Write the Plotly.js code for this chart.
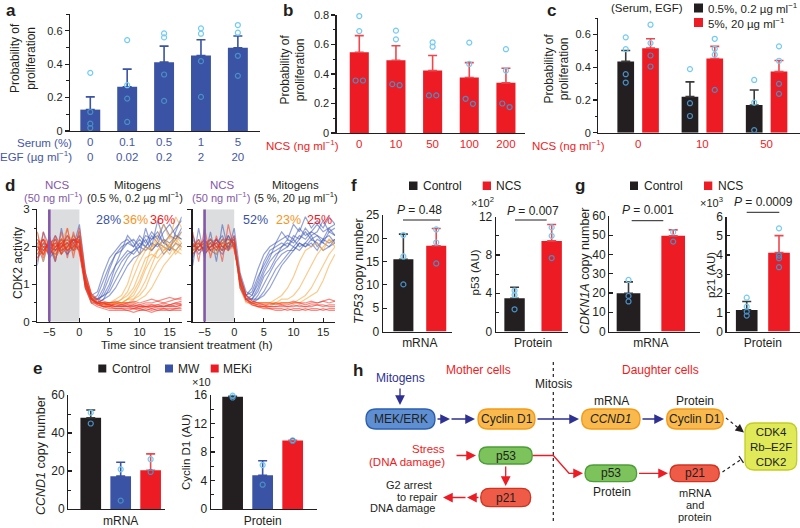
<!DOCTYPE html>
<html><head><meta charset="utf-8">
<script src="https://cdn.plot.ly/plotly-3.0.1.min.js"></script>
<style>body{margin:0;background:#fff}#chart{width:800px;height:528px}</style>
</head><body><div id="chart"></div>
<script>
// ================= DATA =================
// panel a
const aSerum = ['0','0.1','0.5','1','5'];
const aEGF = ['0','0.02','0.2','2','20'];
const aMean = [0.128,0.264,0.412,0.452,0.498];
const aErr = [0.076,0.106,0.096,0.094,0.070];
const aPts = [[0.348,0.114,0.044,0.018],[0.544,0.274,0.194,0.054],[0.584,0.56,0.338,0.18],[0.614,0.582,0.418,0.204],[0.634,0.588,0.45,0.33]];
// panel b
const bNCS = ['0','10','50','100','200'];
const bMean = [0.547,0.493,0.423,0.376,0.34];
const bErr = [0.113,0.099,0.102,0.101,0.099];
const bPts = [[0.793,0.691,0.356,0.356],[0.694,0.635,0.331,0.324],[0.615,0.585,0.255,0.255],[0.613,0.468,0.232,0.198],[0.568,0.423,0.2,0.176]];
// panel c
const cNCS = ['0','10','50'];
const cLowMean = [0.435,0.22,0.169];
const cLowErr = [0.067,0.09,0.092];
const cLowPts = [[0.582,0.51,0.357,0.306],[0.388,0.18,0.102],[0.322,0.184,0.016]];
const cHighMean = [0.516,0.453,0.373];
const cHighErr = [0.057,0.074,0.068];
const cHighPts = [[0.659,0.547,0.471,0.404],[0.573,0.512,0.476,0.261],[0.527,0.439,0.298,0.237]];
// panel d (single-cell CDK2 activity traces, hours)
const dT = [-7,-6,-5,-4,-3,-2,-1,0,1,2,3,4,5,6,7,8,9,10,11,12,13,14,15,16,17];
const dLowBlue = [
 [2.0,1.8,2.1,1.9,2.2,2.0,2.3,2.1,1.0,0.6,0.7,1.1,1.5,1.8,2.0,2.1,2.2,2.0,2.3,2.2,2.4,2.1,2.3,2.2,2.5],
 [1.7,2.0,1.9,2.2,1.8,2.1,2.0,2.3,1.2,0.7,0.5,0.6,0.9,1.3,1.6,1.8,1.9,2.0,1.9,2.1,2.0,2.2,2.1,2.3,2.2],
 [2.2,1.9,2.0,1.7,2.0,2.3,1.9,2.0,0.9,0.5,0.5,0.8,1.2,1.5,1.7,1.9,1.8,2.0,2.2,1.9,2.1,2.0,1.9,2.1,2.0],
 [1.9,2.1,1.8,2.0,2.1,1.9,2.2,2.2,1.1,0.6,0.6,0.7,0.8,1.1,1.4,1.7,1.9,2.1,2.0,2.2,2.3,2.1,2.0,2.2,2.4],
 [2.1,1.6,2.2,2.0,1.9,2.0,2.1,1.9,1.0,0.7,0.8,1.3,1.7,1.9,2.1,2.2,2.0,2.3,2.1,2.4,2.2,2.6,2.3,2.5,2.7],
 [1.8,2.0,2.0,2.3,2.0,1.8,2.2,2.1,1.2,0.6,0.5,0.6,0.7,0.9,1.2,1.5,1.7,1.8,2.0,1.9,2.1,1.8,2.0,1.9,2.1],
 [2.0,2.2,1.7,1.9,2.2,2.1,1.9,2.4,1.0,0.6,0.6,0.9,1.4,1.8,1.9,2.1,2.0,2.2,2.0,2.3,2.1,2.4,2.6,2.3,2.2],
 [1.5,2.4,2.0,1.6,2.5,1.8,2.0,2.6,1.3,0.7,0.6,0.7,1.0,1.5,1.9,2.3,2.1,1.8,2.5,2.0,2.7,2.2,1.9,2.4,2.8]
];
const dLowOrange = [
 [1.9,2.1,2.0,1.8,2.2,2.0,2.1,2.0,1.1,0.6,0.5,0.5,0.5,0.5,0.6,0.8,1.2,1.6,1.9,2.0,2.1,1.9,2.0,2.2,2.0],
 [2.1,1.8,2.2,2.0,1.9,2.2,2.0,2.2,1.0,0.6,0.5,0.4,0.5,0.5,0.5,0.6,0.7,1.0,1.4,1.7,1.9,2.0,1.8,2.1,1.9],
 [1.8,2.0,1.9,2.1,2.0,1.9,2.3,2.1,1.2,0.7,0.5,0.5,0.4,0.5,0.5,0.5,0.6,0.7,0.9,1.3,1.6,1.8,2.0,1.9,2.1],
 [2.0,2.2,2.1,1.9,1.8,2.1,2.0,1.9,0.9,0.5,0.5,0.5,0.5,0.6,0.7,1.0,1.5,1.8,2.0,1.9,2.2,2.0,2.3,2.1,2.4],
 [1.7,1.9,2.0,2.2,2.1,2.0,1.9,2.2,1.1,0.6,0.5,0.4,0.4,0.5,0.5,0.5,0.5,0.6,0.7,0.9,1.2,1.5,1.7,1.9,1.8],
 [2.2,2.0,1.8,2.0,2.2,1.9,2.1,2.0,1.0,0.6,0.5,0.5,0.5,0.5,0.6,0.7,0.9,1.3,1.7,1.8,1.7,1.9,2.1,1.8,2.0],
 [1.9,1.8,2.1,2.0,1.9,2.3,2.2,2.1,1.1,0.6,0.5,0.5,0.4,0.5,0.5,0.6,0.6,0.8,1.1,1.5,1.9,2.2,2.0,2.3,2.1],
 [2.4,1.6,2.3,1.7,2.1,2.5,1.8,2.4,1.2,0.7,0.5,0.5,0.5,0.5,0.5,0.6,0.8,1.1,1.5,2.0,2.3,2.6,2.2,2.8,2.5]
];
const dLowRed = [
 [2.0,1.9,2.1,2.2,1.9,2.0,2.2,2.1,1.0,0.6,0.5,0.45,0.45,0.4,0.4,0.4,0.4,0.35,0.4,0.4,0.4,0.45,0.4,0.45,0.5],
 [1.8,2.1,2.0,1.9,2.1,2.2,2.0,2.0,1.1,0.7,0.55,0.5,0.45,0.45,0.45,0.4,0.45,0.4,0.4,0.45,0.45,0.4,0.45,0.5,0.45],
 [2.1,2.0,1.8,2.0,2.2,1.9,2.1,2.3,1.2,0.6,0.5,0.4,0.4,0.35,0.35,0.35,0.35,0.3,0.35,0.3,0.35,0.35,0.3,0.35,0.35],
 [1.9,2.2,1.9,2.1,2.0,2.1,1.9,2.2,0.9,0.6,0.5,0.5,0.5,0.5,0.45,0.5,0.5,0.45,0.5,0.5,0.55,0.5,0.55,0.6,0.6],
 [2.0,1.8,2.2,1.9,2.0,2.3,2.1,1.9,1.0,0.55,0.45,0.4,0.4,0.4,0.4,0.4,0.35,0.4,0.4,0.35,0.4,0.4,0.4,0.4,0.45],
 [2.2,2.0,2.0,2.1,1.8,2.0,2.2,2.1,1.1,0.65,0.5,0.45,0.45,0.4,0.45,0.45,0.4,0.45,0.4,0.4,0.45,0.5,0.45,0.5,0.55],
 [1.7,1.9,2.1,2.0,2.1,1.9,2.0,2.2,1.0,0.6,0.5,0.5,0.45,0.45,0.4,0.45,0.45,0.4,0.45,0.45,0.4,0.4,0.45,0.4,0.45],
 [2.1,2.2,1.9,1.8,2.0,2.1,2.2,2.0,1.1,0.6,0.45,0.4,0.35,0.35,0.35,0.3,0.35,0.35,0.3,0.35,0.3,0.35,0.35,0.35,0.4],
 [1.6,2.4,1.7,2.3,1.8,2.5,1.7,2.5,1.3,0.75,0.6,0.55,0.5,0.55,0.5,0.5,0.55,0.5,0.55,0.6,0.55,0.6,0.65,0.6,0.65],
 [2.4,1.7,2.3,1.6,2.4,1.7,2.4,1.8,0.9,0.5,0.4,0.35,0.3,0.3,0.3,0.3,0.25,0.3,0.3,0.25,0.3,0.3,0.3,0.3,0.3]
];
const dHighBlue = [
 [2.0,2.1,1.9,2.2,2.0,1.9,2.3,2.0,1.1,0.7,0.8,1.2,1.5,1.8,1.9,2.0,2.2,2.1,2.3,2.2,2.4,2.3,2.2,2.5,2.3],
 [1.8,2.0,2.1,1.9,2.2,2.0,2.1,2.2,1.0,0.6,0.6,0.9,1.3,1.6,1.8,1.9,2.0,2.2,2.0,2.1,2.3,2.0,2.2,2.1,2.2],
 [2.2,1.9,2.0,2.1,1.9,2.2,2.0,2.1,1.2,0.6,0.5,0.7,1.0,1.3,1.6,1.8,1.9,1.9,2.1,2.0,2.2,2.1,1.9,2.0,2.1],
 [1.9,2.2,1.8,2.0,2.1,2.3,1.9,2.3,1.0,0.7,0.9,1.4,1.8,2.0,2.1,2.2,2.3,2.2,2.5,2.3,2.4,2.6,2.4,2.5,2.6],
 [2.1,1.8,2.0,2.2,2.0,1.8,2.1,2.0,1.1,0.6,0.5,0.6,0.8,1.1,1.4,1.6,1.8,2.0,1.9,2.1,2.0,2.2,2.1,2.0,2.2],
 [2.0,2.0,2.2,1.9,1.8,2.1,2.2,2.1,0.9,0.6,0.6,0.8,1.2,1.4,1.7,2.0,2.1,2.0,2.2,2.4,2.2,2.3,2.1,2.4,2.3],
 [1.7,2.1,1.9,2.1,2.2,2.0,2.0,2.2,1.2,0.7,0.6,0.6,0.7,0.9,1.2,1.5,1.7,1.9,2.1,2.0,2.1,1.9,2.2,2.3,2.1],
 [2.3,1.9,2.0,2.0,2.1,1.9,2.3,2.0,1.0,0.6,0.7,1.1,1.6,1.9,2.0,2.1,2.0,2.3,2.2,2.5,2.3,2.4,2.7,2.4,2.5],
 [1.5,2.5,1.7,2.4,1.6,2.6,1.9,2.5,1.3,0.8,0.7,1.0,1.4,1.7,2.1,2.4,2.2,2.6,2.4,2.8,2.5,2.7,2.5,2.8,2.6]
];
const dHighOrange = [
 [2.0,1.9,2.1,2.0,1.8,2.2,2.0,2.1,1.1,0.6,0.5,0.5,0.5,0.5,0.5,0.6,0.6,0.7,0.9,1.2,1.5,1.8,2.0,2.2,2.1],
 [1.9,2.1,2.0,1.8,2.1,2.0,2.2,2.0,1.0,0.6,0.5,0.4,0.4,0.5,0.5,0.5,0.5,0.5,0.6,0.7,0.9,1.2,1.5,1.8,2.0],
 [2.1,2.0,1.9,2.2,2.0,1.9,2.1,2.2,1.2,0.6,0.5,0.5,0.5,0.5,0.6,0.7,0.9,1.2,1.6,1.9,2.0,2.1,1.9,2.2,2.0],
 [1.8,2.2,2.0,2.1,1.9,2.1,1.9,2.0,0.9,0.5,0.5,0.4,0.4,0.4,0.5,0.5,0.5,0.5,0.5,0.6,0.7,0.8,1.1,1.5,1.8]
];
const dHighRed = [
 [2.0,2.1,1.9,2.0,2.2,2.0,2.1,2.2,1.0,0.6,0.45,0.4,0.4,0.35,0.35,0.35,0.3,0.35,0.35,0.3,0.35,0.35,0.3,0.35,0.35],
 [1.9,2.0,2.2,1.9,2.0,2.1,2.0,2.0,1.1,0.6,0.5,0.45,0.45,0.4,0.4,0.45,0.4,0.4,0.45,0.4,0.45,0.45,0.4,0.45,0.45],
 [2.1,1.9,2.0,2.1,1.9,2.2,2.2,2.1,1.2,0.7,0.55,0.5,0.45,0.45,0.5,0.45,0.45,0.5,0.5,0.45,0.5,0.5,0.55,0.5,0.55],
 [2.0,2.2,1.8,2.0,2.1,1.9,2.0,2.3,0.9,0.55,0.45,0.4,0.35,0.35,0.3,0.3,0.35,0.3,0.3,0.35,0.3,0.3,0.35,0.3,0.3],
 [1.8,2.0,2.1,2.2,2.0,2.0,1.9,2.1,1.0,0.6,0.5,0.45,0.4,0.4,0.4,0.4,0.4,0.45,0.4,0.4,0.4,0.45,0.45,0.4,0.4],
 [2.4,1.6,2.5,1.7,2.3,1.6,2.6,1.9,1.2,0.7,0.55,0.5,0.5,0.5,0.45,0.5,0.5,0.55,0.5,0.5,0.55,0.5,0.55,0.6,0.55]
];
const dLowPct = ['28%','36%','36%'];
const dHighPct = ['52%','23%','25%'];
// panel e
const eGroups = ['Control','MW','MEKi'];
const eMrnaMean = [48.0,17.3,20.4];
const eMrnaErr = [4.1,7.3,8.6];
const eMrnaPts = [[50.7,45.0],[20.9,4.4],[26.2,19.5]];
const eProtMean = [15.75,4.72,9.6];
const eProtErr = [0.3,2.06,0.05];
const eProtPts = [[15.9,15.65],[6.17,3.41],[9.65,9.55]];
// panel f
const fGroups = ['Control','NCS'];
const fMrnaMean = [15.5,18.4];
const fMrnaErr = [5.4,3.7];
const fMrnaPts = [[20.7,16.1,10.1],[21.9,19.1,14.6]];
const fProtMean = [3.47,9.47];
const fProtErr = [1.16,1.72];
const fProtPts = [[4.28,3.82,2.32],[10.88,10.0,7.68]];
const fPvals = ['0.48','0.007'];
// panel g
const gMrnaMean = [19.9,49.7];
const gMrnaErr = [5.9,3.1];
const gMrnaPts = [[26.8,18.5,15.6],[51.6,46.7]];
const gProtMean = [1.13,4.12];
const gProtErr = [0.44,0.89];
const gProtPts = [[1.77,1.3,1.04,0.83],[5.39,3.97,3.83,3.36]];
const gPvals = ['0.001','0.0009'];

// ================= STYLE =================
const FONT = 'Arial, "Liberation Sans", Helvetica, sans-serif';
const INK = '#231f20', BLUE = '#3a53a4', RED = '#ed1c24', TBLUE = '#4457a5';
const ERR_RED = '#f0464c', ERR_INK = '#3a3a3a';
const PT_LIGHT = '#74cbf2', PT_DARK = '#4a8fc6';
const W = 800, H = 528;
const dx = (a,b)=>[a/W, b/W];
const dy = (top,bot)=>[1-bot/H, 1-top/H];

const traces = [];
function addBars(xs, ys, errs, color, errColor, width, xa, ya, offset){
  const t = {type:'bar', x:xs, y:ys, width:width, xaxis:xa, yaxis:ya,
    marker:{color:color, line:{width:0}}, hoverinfo:'skip',
    error_y:{type:'data', array:errs, arrayminus:errs.map(()=>0), symmetric:false,
      color:errColor, thickness:1.6, width:4.5}};
  if(offset!==undefined) t.offset = offset;
  traces.push(t);
}
function addPts(xc, pts, means, xa, ya, offs){
  const x=[], y=[], c=[];
  pts.forEach((arr,i)=>arr.forEach((v,j)=>{
    x.push(xc[i] + (offs ? (offs[j]||0) : 0)); y.push(v);
    c.push(v > means[i] ? PT_LIGHT : PT_DARK);
  }));
  traces.push({type:'scatter', mode:'markers', x:x, y:y, xaxis:xa, yaxis:ya, hoverinfo:'skip', cliponaxis:false,
    marker:{symbol:'circle-open', size:5, color:c, line:{width:1.2}}});
}
function addLines(set, color, xa, ya){
  set.forEach(v=>traces.push({type:'scatter', mode:'lines', x:dT, y:v, xaxis:xa, yaxis:ya, hoverinfo:'skip',
    opacity:0.55, line:{color:color, width:1.2, shape:'linear'}}));
}

// a
const aIdx = aMean.map((_,i)=>i);
addBars(aIdx, aMean, aErr, BLUE, BLUE, 0.54, 'x','y');
addPts(aIdx, aPts, aMean, 'x','y');
// b
const bIdx = bMean.map((_,i)=>i);
addBars(bIdx, bMean, bErr, RED, ERR_RED, 0.52, 'x2','y2');
addPts(bIdx, bPts, bMean, 'x2','y2', [0,0,-0.1,0.1]);
// c
const cIdx = cNCS.map((_,i)=>i);
const cW = 0.26, cOffL = -0.323, cOffR = 0.063;
addBars(cIdx, cLowMean, cLowErr, INK, ERR_INK, cW, 'x3','y3', cOffL);
addBars(cIdx, cHighMean, cHighErr, RED, ERR_RED, cW, 'x3','y3', cOffR);
addPts(cIdx.map(i=>i+cOffL+cW/2), cLowPts, cLowMean, 'x3','y3');
addPts(cIdx.map(i=>i+cOffR+cW/2), cHighPts, cHighMean, 'x3','y3');
// d
const DBLUE='#3d55b0', DORANGE='#f7a030', DRED='#ee3124';
addLines(dLowBlue, DBLUE, 'x4','y4'); addLines(dLowOrange, DORANGE, 'x4','y4'); addLines(dLowRed, DRED, 'x4','y4');
addLines(dHighBlue, DBLUE, 'x5','y5'); addLines(dHighOrange, DORANGE, 'x5','y5'); addLines(dHighRed, DRED, 'x5','y5');
// e
const eCol = [INK, BLUE, RED], eErrCol = [ERR_INK, BLUE, ERR_RED];
eGroups.forEach((g,i)=>{
  addBars([i],[eMrnaMean[i]],[eMrnaErr[i]], eCol[i], eErrCol[i], 0.69, 'x6','y6');
  addBars([i],[eProtMean[i]],[eProtErr[i]], eCol[i], eErrCol[i], 0.69, 'x7','y7');
});
const eIdx = eGroups.map((_,i)=>i);
addPts(eIdx, eMrnaPts, eMrnaMean, 'x6','y6');
addPts(eIdx, eProtPts, eProtMean, 'x7','y7');
// f, g
const fgCol = [INK, RED], fgErr = [ERR_INK, ERR_RED];
const fgIdx = fGroups.map((_,i)=>i);
fGroups.forEach((g,i)=>{
  addBars([i],[fMrnaMean[i]],[fMrnaErr[i]], fgCol[i], fgErr[i], 0.61, 'x8','y8');
  addBars([i],[fProtMean[i]],[fProtErr[i]], fgCol[i], fgErr[i], 0.55, 'x9','y9');
  addBars([i],[gMrnaMean[i]],[gMrnaErr[i]], fgCol[i], fgErr[i], 0.53, 'x10','y10');
  addBars([i],[gProtMean[i]],[gProtErr[i]], fgCol[i], fgErr[i], 0.67, 'x11','y11');
});
addPts(fgIdx, fMrnaPts, fMrnaMean, 'x8','y8');
addPts(fgIdx, fProtPts, fProtMean, 'x9','y9');
addPts(fgIdx, gMrnaPts, gMrnaMean, 'x10','y10');
addPts(fgIdx, gProtPts, gProtMean, 'x11','y11');
// overlay (pixel) subplot for diagram / labels
traces.push({type:'scatter', x:[], y:[], xaxis:'x12', yaxis:'y12', hoverinfo:'skip'});

// ================= AXES =================
function ax(o, fs){
  return Object.assign({showline:true, linecolor:INK, linewidth:1.3, ticks:'outside', ticklen:4, tickwidth:1.2,
    tickcolor:INK, showgrid:false, zeroline:false, fixedrange:true, tickfont:{size:fs||11, color:INK}}, o);
}
function minor(d, dir){ return {dtick:d, tick0:0, ticks:dir||'outside', ticklen:2.5, tickwidth:1, tickcolor:INK, showgrid:false}; }
function yax(top,bot,range,dtick,anchor,mn,fs,extra){
  const dir = (extra && extra.ticks) || 'outside';
  const o = {domain:dy(top,bot), range:range, dtick:dtick, tick0:0, anchor:anchor};
  if(mn) o.minor = minor(mn, dir);
  return ax(Object.assign(o, extra||{}), fs);
}
function xcat(l,r,range,anchor,vals,text,color,fs){
  return ax({domain:dx(l,r), range:range, anchor:anchor, tickvals:vals, ticktext:text, ticks:'',
    tickfont:{size:fs||11, color:color||INK}});
}
const IN = {ticks:'inside', ticklen:3.5};

const layout = {
  width:W, height:H, margin:{l:0,r:0,t:0,b:0}, paper_bgcolor:'#ffffff', plot_bgcolor:'rgba(0,0,0,0)',
  showlegend:false, barmode:'overlay', hovermode:false, font:{family:FONT, size:11, color:INK},
  xaxis: xcat(70,260,[-0.55,4.6],'y',aIdx,aSerum.map((s,i)=>s+'<br>'+aEGF[i]),TBLUE,11.5),
  yaxis: yax(14,131,[0,0.7],0.2,'x',0.1,11),
  xaxis2: xcat(336.7,525,[-0.616,4.52],'y2',bIdx,bNCS,RED,11.5),
  yaxis2: yax(15,133,[0,0.8],0.2,'x2',0.1,11),
  xaxis3: xcat(598.3,800,[-0.62,2.52],'y3',cIdx,cNCS,RED,11.5),
  yaxis3: yax(18,132.7,[0,0.7],0.2,'x3',0.1,11),
  xaxis4: ax({domain:dx(37.3,181.7), range:[-7,17], anchor:'y4', tickvals:[-5,0,5,10,15], ticks:'inside'},11),
  yaxis4: yax(209.3,321.7,[0,3],1,'x4',0.5,11.5),
  xaxis5: ax({domain:dx(192.7,335), range:[-7,17], anchor:'y5', tickvals:[-5,0,5,10,15], ticks:'inside'},11),
  yaxis5: yax(209.3,321.7,[0,3],1,'x5',0.5,11.5,{showticklabels:false}),
  xaxis6: xcat(68.3,165,[-0.75,2.48],'y6',[1],['mRNA'],INK,12),
  yaxis6: yax(395,509,[0,60],20,'x6',10,12,IN),
  xaxis7: xcat(211,316.7,[-0.72,2.8],'y7',[1],['Protein'],INK,12),
  yaxis7: yax(395,509,[0,16],4,'x7',2,12,IN),
  xaxis8: xcat(383,452,[-0.62,1.48],'y8',[0.5],['mRNA'],INK,12),
  yaxis8: yax(215,331.5,[0,25],5,'x8',null,12,IN),
  xaxis9: xcat(496,568,[-0.5,1.44],'y9',[0.5],['Protein'],INK,12),
  yaxis9: yax(216.7,331.5,[0,12],4,'x9',2,12,IN),
  xaxis10: xcat(609.3,700,[-0.43,1.6],'y10',[0.5],['mRNA'],INK,12),
  yaxis10: yax(216,331.5,[0,60],10,'x10',null,12,IN),
  xaxis11: xcat(726.7,800,[-0.62,1.65],'y11',[0.5],['Protein'],INK,12),
  yaxis11: yax(216.7,331.5,[0,6],1,'x11',null,12,IN),
  xaxis12: {domain:[0,1], range:[0,W], anchor:'y12', visible:false, fixedrange:true},
  yaxis12: {domain:[0,1], range:[H,0], anchor:'x12', visible:false, fixedrange:true},
  annotations:[], shapes:[]
};

// ================= ANNOTATIONS / SHAPES =================
const A = layout.annotations, S = layout.shapes;
function T(x,y,text,o){
  o = o||{};
  A.push({xref:'x12', yref:'y12', x:x, y:y, text:text, showarrow:false,
    xanchor:o.xa||'center', yanchor:'middle', textangle:o.rot||0,
    font:{size:o.size||12, color:o.color||INK, family:FONT, weight:o.bold?'bold':'normal'}});
}
function sq(x0,y0,x1,y1,color){ S.push({type:'rect', xref:'x12', yref:'y12', x0:x0, y0:y0, x1:x1, y1:y1, fillcolor:color, line:{width:0}}); }
function ln(x0,y0,x1,y1,color,w,dash){ S.push({type:'line', xref:'x12', yref:'y12', x0:x0, y0:y0, x1:x1, y1:y1, line:{color:color, width:w||1.2, dash:dash||'solid'}}); }
function arrow(hx,hy,tx,ty,color,size){
  A.push({xref:'x12', yref:'y12', axref:'x12', ayref:'y12', x:hx, y:hy, ax:tx, ay:ty, text:'', showarrow:true,
    arrowhead:2, arrowsize:size||1.5, arrowwidth:1.3, arrowcolor:color});
}
function pill(x0,y0,x1,y1,fill,line,r){
  r = r || (y1-y0)/2;
  const p = `M${x0+r},${y0} L${x1-r},${y0} Q${x1},${y0} ${x1},${y0+r} L${x1},${y1-r} Q${x1},${y1} ${x1-r},${y1} L${x0+r},${y1} Q${x0},${y1} ${x0},${y1-r} L${x0},${y0+r} Q${x0},${y0} ${x0+r},${y0} Z`;
  S.push({type:'path', xref:'x12', yref:'y12', path:p, fillcolor:fill, line:{color:line, width:1.3}, layer:'above'});
}

// panel letters
[['a',11,10],['b',288,10],['c',551,10],['d',10,185],['e',37,368],['f',354,185],['g',580,185],['h',358,370]]
  .forEach(l=>T(l[1],l[2],l[0],{size:17,bold:true}));

// a
T(74,143,'Serum (%)',{xa:'right',color:TBLUE,size:11.5});
T(74,156,'EGF (µg ml<sup>−1</sup>)',{xa:'right',color:TBLUE,size:11.5});
T(23,58,'Probability of<br>proliferation',{rot:-90,size:12});
// b
T(341,145,'NCS (ng ml<sup>−1</sup>)',{xa:'right',color:RED,size:11.5});
T(292,69.5,'Probability of<br>proliferation',{rot:-90,size:12});
// c
T(607,145,'NCS (ng ml<sup>−1</sup>)',{xa:'right',color:RED,size:11.5});
T(556,68.5,'Probability of<br>proliferation',{rot:-90,size:12});
T(646.7,8,'(Serum, EGF)',{size:11.5});
sq(694,3.5,703,12.5,INK); T(706,8,'0.5%, 0.2 µg ml<sup>−1</sup>',{xa:'left',size:11.5});
sq(694,18,703,27,RED); T(706,22.5,'5%, 20 µg ml<sup>−1</sup>',{xa:'left',size:11.5});

// d
const PURPLE = '#8458a8';
S.push({type:'rect', xref:'x4', yref:'y4', x0:-5, x1:0, y0:0, y1:3, fillcolor:'#dcdddf', line:{width:0}, layer:'below'});
S.push({type:'rect', xref:'x5', yref:'y5', x0:-5, x1:0, y0:0, y1:3, fillcolor:'#dcdddf', line:{width:0}, layer:'below'});
S.push({type:'line', xref:'x4', yref:'y4', x0:-5, x1:-5, y0:0, y1:3, line:{color:PURPLE, width:2.6}});
S.push({type:'line', xref:'x5', yref:'y5', x0:-5, x1:-5, y0:0, y1:3, line:{color:PURPLE, width:2.6}});
T(57,185,'NCS',{color:PURPLE,size:11.5});
T(53,197,'(50 ng ml<sup>−1</sup>)',{color:PURPLE,size:11});
T(137,185,'Mitogens',{size:11.5});
T(135,197,'(0.5 %, 0.2 µg ml<sup>−1</sup>)',{size:11});
T(222,185,'NCS',{color:PURPLE,size:11.5});
T(221,197,'(50 ng ml<sup>−1</sup>)',{color:PURPLE,size:11});
T(295,185,'Mitogens',{size:11.5});
T(296,197,'(5 %, 20 µg ml<sup>−1</sup>)',{size:11});
const pctCol = [BLUE,'#f7941d',RED];
[108,135,162].forEach((x,i)=>T(x,219.5,dLowPct[i],{color:pctCol[i],size:12.5}));
[255,288,319].forEach((x,i)=>T(x,219.5,dHighPct[i],{color:pctCol[i],size:12.5}));
T(18,263,'CDK2 activity',{rot:-90,size:12});
T(187,344.5,'Time since transient treatment (h)',{size:11.5});

// e
sq(98.3,364.5,106.3,372.5,INK); T(109.5,368.5,eGroups[0],{xa:'left'});
sq(165,364.5,173,372.5,BLUE); T(175.5,368.5,eGroups[1],{xa:'left'});
sq(210.7,364.5,218.7,372.5,RED); T(221,368.5,eGroups[2],{xa:'left'});
T(41,456,'<i>CCND1</i> copy number',{rot:-90,size:12.5});
T(186,452,'Cyclin D1 (AU)',{rot:-90,size:11.5});
T(201,382,'×10',{size:11});

// f
sq(409,181.5,417.5,190,INK); T(421,185.5,fGroups[0],{xa:'left'});
sq(482.7,181.5,491,190,RED); T(493.5,185.5,fGroups[1],{xa:'left'});
T(359,271,'<i>TP53</i> copy number',{rot:-90,size:12.5});
T(474,272.5,'p53 (AU)',{rot:-90,size:11.5});
T(482,202,'×10<sup>2</sup>',{size:11});
T(419,210,'<i>P</i> = '+fPvals[0]); ln(403,220,440,220,INK,1);
T(533,210.5,'<i>P</i> = '+fPvals[1]); ln(515,220,546.7,220,INK,1);

// g
sq(630,181.5,638,190,INK); T(641.7,185.5,fGroups[0],{xa:'left'});
sq(704,181.5,712.3,190,RED); T(716,185.5,fGroups[1],{xa:'left'});
T(585,271,'<i>CDKN1A</i> copy number',{rot:-90,size:12.5});
T(711,275,'p21 (AU)',{rot:-90,size:11.5});
T(711.7,202,'×10<sup>3</sup>',{size:11});
T(648,210,'<i>P</i> = '+gPvals[0]); ln(631.7,220.7,663.3,220.7,INK,1);
T(763,202,'<i>P</i> = '+gPvals[1]); ln(746.7,212.3,779.3,212.3,INK,1);

// h diagram
const NAVY = '#2e3192';
const BX = {blue:['#5d8fd2','#2d5fae'], orange:['#f9b94c','#f29b1a'], green:['#7dc35b','#4d9d38'], red:['#ee5b46','#cf3422'], yellow:['#e0e958','#c2cc25']};
T(400,377.7,'Mitogens',{color:NAVY});
T(478,370,'Mother cells',{color:RED});
T(660,370,'Daughter cells',{color:RED});
T(553,384.3,'Mitosis');
ln(553.3,362,553.3,377,INK,1.2,'3px,3px');
ln(553.3,392,553.3,521,INK,1.2,'3px,3px');
arrow(400,405,400,387,NAVY);
pill(366,409,435,429,BX.blue[0],BX.blue[1]);           T(400.5,419,'MEK/ERK');
arrow(450,419,436,419,NAVY); arrow(475,419,450,419,NAVY);
pill(478,409,535,429,BX.orange[0],BX.orange[1]);       T(506.5,419,'Cyclin D1');
arrow(579,419,536,419,NAVY);
T(611.7,401,'mRNA');
pill(581.7,409,640,429,BX.orange[0],BX.orange[1]);     T(610.8,419,'<i>CCND1</i>');
arrow(664,419,641,419,NAVY);
T(695,401,'Protein');
pill(666.7,409,723.3,429,BX.orange[0],BX.orange[1]);   T(695,419,'Cyclin D1');
ln(726,418,739,428.5,INK,1.2,'dot');
arrow(744,432.5,738,427.8,INK,1.3);
pill(745,423,796.7,470,BX.yellow[0],BX.yellow[1],9);   T(770.8,446.5,'CDK4<br>Rb–E2F<br>CDK2',{size:11.5});
T(446.7,449.3,'Stress',{xa:'right',color:RED,size:11.5});
T(446.7,461.7,'(DNA damage)',{xa:'right',color:RED,size:11.5});
arrow(476,455.5,455,455.5,RED);
pill(479,447,532.3,464,BX.green[0],BX.green[1]);       T(505.7,455.5,'p53');
S.push({type:'path', xref:'x12', yref:'y12', path:'M533,455.5 L553.3,455.5 L569,473.3 L572,473.3', line:{color:RED, width:1.3}});
arrow(583,473.3,570,473.3,RED);
arrow(505.7,486,505.7,465,RED);
pill(480.7,488.3,530.7,506.7,BX.red[0],BX.red[1]);    T(505.7,497.5,'p21');
arrow(467,497.5,480,497.5,RED); arrow(443,497.5,467,497.5,RED);
T(409,485,'G2 arrest',{size:11});
T(417.5,496.7,'to repair',{size:11});
T(402.7,508.3,'DNA damage',{size:11});
pill(585,465,636.7,481.7,BX.green[0],BX.green[1]);     T(610.8,473.3,'p53');
T(611.7,491.7,'Protein');
arrow(668,473.3,637.5,473.3,RED);
pill(670,465,719.3,481.7,BX.red[0],BX.red[1]);        T(694.7,473.3,'p21');
T(695,493.3,'mRNA',{size:11}); T(695,505,'and',{size:11}); T(695,516.7,'protein',{size:11});
ln(722.5,472,741,459.5,INK,1.2,'dot');
ln(739,456,743.5,462.8,INK,1.3);

Plotly.newPlot('chart', traces, layout, {staticPlot:true, displayModeBar:false});
</script>
</body></html>
